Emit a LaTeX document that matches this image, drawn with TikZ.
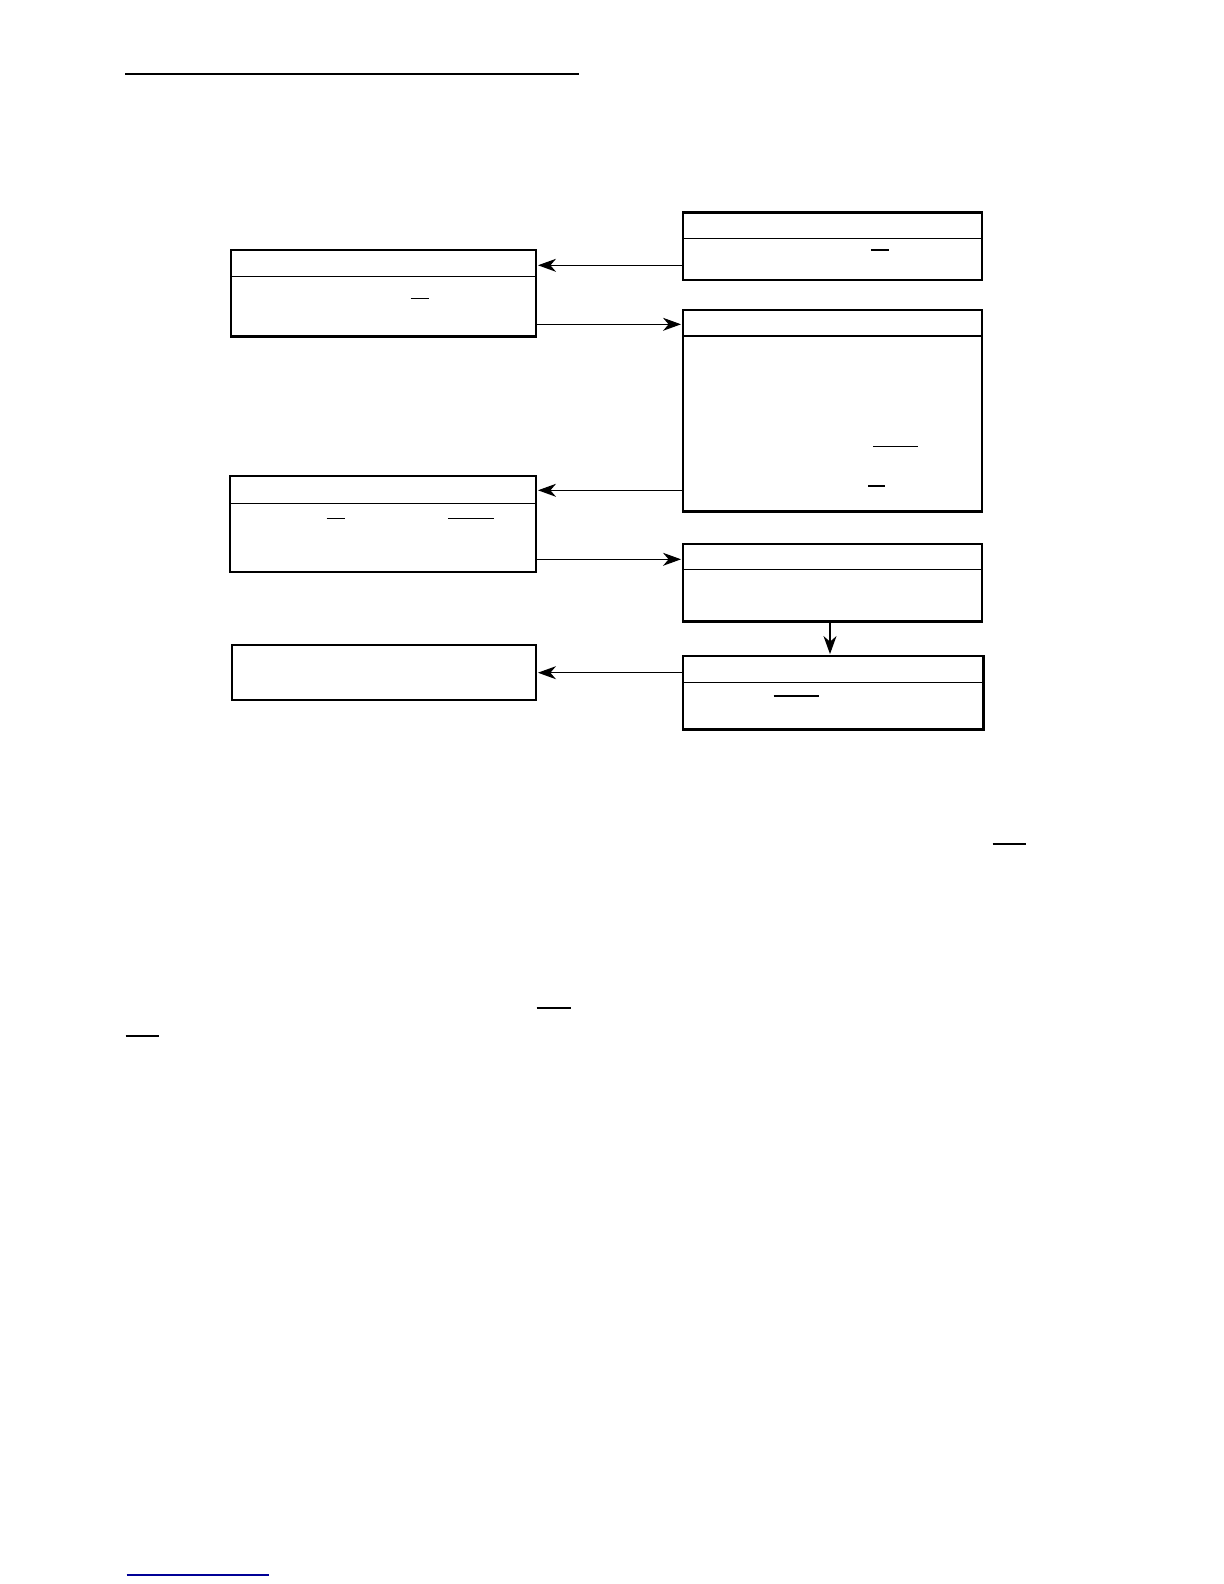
\documentclass[tikz,border=0pt]{standalone}
\usetikzlibrary{arrows.meta}
\definecolor{linkblue}{RGB}{0,0,150}
\begin{document}
\begin{tikzpicture}[x=0.5pt,y=-0.5pt,
  box/.style={draw, line width=1.2pt, rectangle, inner sep=0pt, outer sep=0pt},
  sepline/.style={line width=0.6pt},
  arr/.style={line width=0.55pt, -{Stealth[length=9pt,width=6.5pt,inset=2.8pt]}},
  bar/.style={line width=0.55pt},
  bigbar/.style={line width=1pt}]
\useasboundingbox (0,0) rectangle (1224,1584);

% top rule
\draw[line width=0.75pt] (125,74) -- (579,74);

% boxes
\node[box, minimum width=149.5pt, minimum height=33.65pt] (A) at (832.5,246.3) {};
\node[box, minimum width=152.5pt, minimum height=43.35pt] (L1) at (383.5,293.3) {};
\node[box, minimum width=149.5pt, minimum height=100.85pt] (B) at (832.5,410.8) {};
\node[box, minimum width=153pt, minimum height=48pt] (L2) at (383,523.7) {};
\node[box, minimum width=149.5pt, minimum height=38.85pt] (C) at (832.5,582.8) {};
\node[box, minimum width=150.35pt, minimum height=36.65pt] (D) at (833.3,692.7) {};
\node[box, minimum width=151.85pt, minimum height=27.5pt] (E) at (384.1,672.5) {};

% dividers
\draw[sepline] (A.west |- 0,238.3) -- (A.east |- 0,238.3);
\draw[sepline] (L1.west |- 0,276.3) -- (L1.east |- 0,276.3);
\draw[sepline] (B.west |- 0,336) -- (B.east |- 0,336);
\draw[sepline] (L2.west |- 0,503.3) -- (L2.east |- 0,503.3);
\draw[sepline] (C.west |- 0,569.3) -- (C.east |- 0,569.3);
\draw[sepline] (D.west |- 0,682.7) -- (D.east |- 0,682.7);

% connectors
\draw[arr] (A.west |- 0,265.3) -- ([xshift=1pt]L1.east |- 0,265.3);
\draw[arr] (L1.east |- 0,324.3) -- ([xshift=-1pt]B.west |- 0,324.3);
\draw[arr] (B.west |- 0,490.3) -- ([xshift=1pt]L2.east |- 0,490.3);
\draw[arr] (L2.east |- 0,559.3) -- ([xshift=-1pt]C.west |- 0,559.3);
\draw[arr] (C.south -| 830,0) -- ([yshift=1pt]D.north -| 830,0);
\draw[arr] (D.west |- 0,672.7) -- ([xshift=1pt]E.east |- 0,672.7);

% short bars inside boxes
\draw[bar] (870.8,250) -- (889,250);
\draw[bar] (410.6,298.3) -- (428.7,298.3);
\draw[bar] (873.2,446.7) -- (918.4,446.7);
\draw[bar] (868.3,486) -- (885,486);
\draw[bar] (326.6,518.3) -- (345.2,518.3);
\draw[bar] (447.9,518.3) -- (494,518.3);
\draw[bar] (773.5,696) -- (818.7,696);

% bars in the text below
\draw[bigbar] (992.7,843.7) -- (1026,843.7);
\draw[bigbar] (536.7,1008) -- (571,1008);
\draw[bigbar] (125.7,1035.7) -- (159,1035.7);

% bottom rule
\draw[linkblue, line width=0.6pt] (126.7,1575) -- (269,1575);
\end{tikzpicture}
\end{document}
